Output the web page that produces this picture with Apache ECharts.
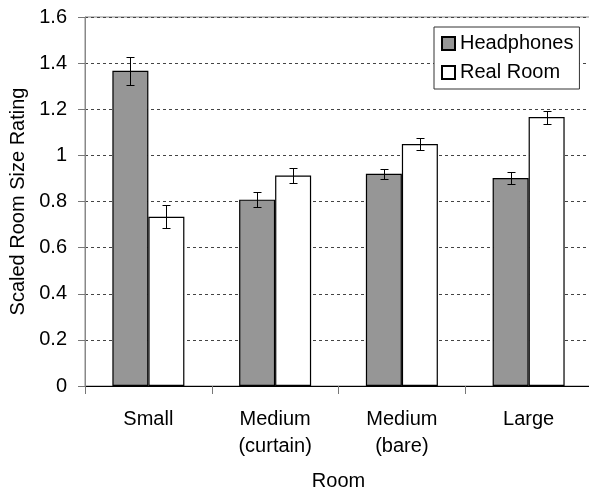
<!DOCTYPE html>
<html>
<head>
<meta charset="utf-8">
<script src="https://cdn.jsdelivr.net/npm/echarts@6/dist/echarts.min.js"></script>
<style>html,body{margin:0;padding:0;background:#fff}#c{width:589px;height:492px}</style>
</head>
<body>
<div id="c"></div>
<script>
var categories = ['Small', 'Medium\n(curtain)', 'Medium\n(bare)', 'Large'];
var headphones = [1.367, 0.808, 0.920, 0.902];
var headphonesErr = [0.060, 0.033, 0.023, 0.028];
var realRoom = [0.734, 0.913, 1.049, 1.166];
var realRoomErr = [0.050, 0.032, 0.025, 0.028];
var yMin = 0, yMax = 1.6, yStep = 0.2;

var FONT = 'Liberation Sans';
var BARW = 36;

function errData(vals, errs) {
  return vals.map(function (v, i) { return [i, v, errs[i]]; });
}
function errRender(offset) {
  return function (params, api) {
    var i = api.value(0), v = api.value(1), e = api.value(2);
    var top = api.coord([i, v + e]);
    var bot = api.coord([i, v - e]);
    var x = Math.round(top[0] + offset) + 0.5;
    var t = Math.round(top[1]) + 0.5, b = Math.round(bot[1]) + 0.5;
    var cap = 4;
    var st = { stroke: '#000', lineWidth: 1 };
    return {
      type: 'group',
      children: [
        { type: 'line', shape: { x1: x, y1: t, x2: x, y2: b }, style: st },
        { type: 'line', shape: { x1: x - cap, y1: t, x2: x + cap, y2: t }, style: st },
        { type: 'line', shape: { x1: x - cap, y1: b, x2: x + cap, y2: b }, style: st }
      ]
    };
  };
}

var chart = echarts.init(document.getElementById('c'), null, { renderer: 'canvas' });
chart.setOption({
  animation: false,
  backgroundColor: '#fff',
  textStyle: { fontFamily: FONT, color: '#000' },
  grid: { left: 85, top: 17, right: -3, bottom: 106, outerBoundsMode: 'none', containLabel: false,
    show: true, borderColor: '#888', borderWidth: 1, backgroundColor: 'transparent' },
  legend: {
    orient: 'vertical',
    left: 434, top: 27,
    data: ['Headphones', 'Real Room'],
    icon: 'rect',
    itemWidth: 13, itemHeight: 13, itemGap: 6,
    padding: [5, 6, 5, 7],
    borderColor: '#333', borderWidth: 1,
    backgroundColor: '#fff',
    textStyle: { fontFamily: FONT, fontSize: 20, color: '#000', lineHeight: 23 },
    selectedMode: false
  },
  xAxis: {
    type: 'category',
    data: categories,
    name: 'Room',
    nameLocation: 'middle',
    nameGap: 85,
    nameTextStyle: { fontFamily: FONT, fontSize: 20, color: '#000' },
    axisLine: { lineStyle: { color: '#000', width: 1 } },
    axisTick: { show: true, length: 8, lineStyle: { color: '#777' } },
    axisLabel: { fontFamily: FONT, fontSize: 20, color: '#000', lineHeight: 27, margin: 20 }
  },
  yAxis: {
    type: 'value',
    min: yMin, max: yMax, interval: yStep,
    name: 'Scaled Room Size Rating',
    nameLocation: 'middle',
    nameRotate: 90,
    nameGap: 55,
    nameTextStyle: { fontFamily: FONT, fontSize: 20, color: '#000' },
    axisLine: { show: true, lineStyle: { color: '#888', width: 1 } },
    axisTick: { show: true, length: 7, lineStyle: { color: '#777' } },
    axisLabel: { fontFamily: FONT, fontSize: 20, color: '#000', margin: 18,
      formatter: function (v) { return String(Math.round(v * 10) / 10); } },
    splitLine: { show: true, lineStyle: { color: '#444', type: [3, 3], width: 1 } }
  },
  series: [
    { name: 'Headphones', type: 'bar', data: headphones, barWidth: BARW, barGap: '0%',
      itemStyle: { color: '#969696', borderColor: '#000', borderWidth: 1.2, borderRadius: 0 } },
    { name: 'Real Room', type: 'bar', data: realRoom, barWidth: BARW, barGap: '0%',
      itemStyle: { color: '#fff', borderColor: '#000', borderWidth: 1.2, borderRadius: 0 } },
    { name: 'hpErr', type: 'custom', data: errData(headphones, headphonesErr),
      renderItem: errRender(-BARW / 2), z: 5, encode: { x: 0, y: 1 } },
    { name: 'rrErr', type: 'custom', data: errData(realRoom, realRoomErr),
      renderItem: errRender(BARW / 2), z: 5, encode: { x: 0, y: 1 } }
  ]
});
</script>
</body>
</html>
